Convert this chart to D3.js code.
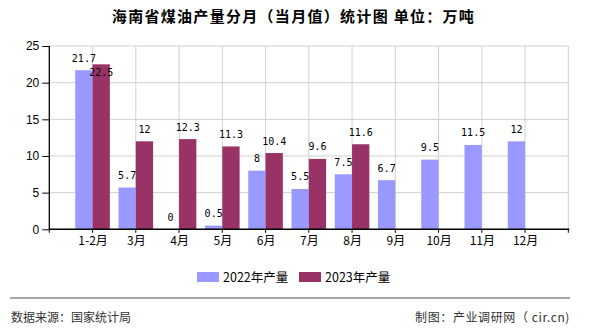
<!DOCTYPE html>
<html><head><meta charset="utf-8">
<script src="https://cdn.jsdelivr.net/npm/d3@7"></script>
<style>body{margin:0;background:#fff}svg{display:block}</style>
</head><body>
<script>
const categories = ["1-2月","3月","4月","5月","6月","7月","8月","9月","10月","11月","12月"];
const values2022 = [21.7,5.7,0,0.5,8,5.5,7.5,6.7,9.5,11.5,12];
const values2023 = [22.5,12,12.3,11.3,10.4,9.6,11.6,null,null,null,null];
const seriesNames = ["2022年产量","2023年产量"];
const yTicks = [0,5,10,15,20,25];

const W=590,H=330;
const svg=d3.select("body").append("svg").attr("width",W).attr("height",H);
const L=49.3,R=568.3,T=46,B=229.3;
const colors=["#9999ff","#993366"];

const x=d3.scalePoint().domain(categories).range([L,R]).padding(1);
const step=x.step();
const y=d3.scaleLinear().domain([0,25]).range([B,T]);
const bw=step*0.4;

// grid
const g=svg.append("g");
g.selectAll(".hg").data(yTicks.slice(1)).join("line")
 .attr("x1",L).attr("x2",R).attr("y1",d=>y(d)).attr("y2",d=>y(d))
 .attr("stroke","#d0d0d0").attr("stroke-width",1);
const vpos=d3.range(1,13).map(i=>L+i*step);
g.selectAll(".vg").data(vpos).join("line")
 .attr("x1",d=>d).attr("x2",d=>d).attr("y1",T).attr("y2",B)
 .attr("stroke","#d0d0d0").attr("stroke-width",1);

// bars
const series=[values2022,values2023];
series.forEach((vals,si)=>{
  const data=categories.map((c,i)=>({c,v:vals[i]})).filter(d=>d.v!==null);
  svg.append("g").selectAll("rect").data(data).join("rect")
   .attr("x",d=>x(d.c)+(si===0?-bw:0)).attr("width",bw)
   .attr("y",d=>y(d.v)).attr("height",d=>B-y(d.v))
   .attr("fill",colors[si]);
});

// axes
const ya=svg.append("g").attr("transform",`translate(${L},0)`)
 .call(d3.axisLeft(y).tickValues(yTicks).tickSize(7).tickPadding(3).tickFormat(d3.format("d")));
ya.select(".domain").remove();
ya.selectAll("line").attr("stroke","#000");
ya.selectAll("text").attr("font-family","'Liberation Sans',Arial,sans-serif").attr("font-size",12).attr("fill","#000");
svg.append("line").attr("x1",L).attr("x2",L).attr("y1",T).attr("y2",B).attr("stroke","#000").attr("stroke-width",1.3);

const xa=svg.append("g").attr("transform",`translate(0,${B})`)
 .call(d3.axisBottom(x).tickSize(0).tickPadding(7));
xa.select(".domain").remove();
xa.selectAll("text").attr("font-family","'Noto Sans CJK SC',sans-serif").attr("font-size",12).attr("fill","#000");
svg.append("line").attr("x1",L).attr("x2",R+1).attr("y1",B).attr("y2",B).attr("stroke","#000").attr("stroke-width",1.5);
svg.append("g").selectAll("line").data(d3.range(0,13).map(i=>L+i*step)).join("line")
 .attr("x1",d=>d).attr("x2",d=>d).attr("y1",B).attr("y2",B+3.5).attr("stroke","#000");

// value labels
series.forEach((vals,si)=>{
  const data=categories.map((c,i)=>({c,v:vals[i]})).filter(d=>d.v!==null);
  svg.append("g").selectAll("text").data(data).join("text")
   .attr("x",d=>x(d.c)+(si===0?-bw/2:bw/2))
   .attr("y",d=>d.v>22?y(d.v)+12:y(d.v)-8.5)
   .attr("text-anchor","middle")
   .attr("font-family","'DejaVu Sans Mono',monospace").attr("font-size",10)
   .attr("fill","#000").text(d=>d.v);
});

// title
svg.append("text").attr("x",293.5).attr("y",22).attr("text-anchor","middle")
 .attr("font-family","'Noto Sans CJK SC',sans-serif").attr("font-size",15).attr("font-weight","bold")
 .attr("letter-spacing","1.3px").attr("fill","#000")
 .text("海南省煤油产量分月（当月值）统计图 单位：万吨");

// legend
const lg=svg.append("g");
const lx=[197,299];
seriesNames.forEach((n,i)=>{
  lg.append("rect").attr("x",lx[i]).attr("y",272).attr("width",22).attr("height",10).attr("fill",colors[i]);
  lg.append("text").attr("x",lx[i]+26).attr("y",281.5)
   .attr("font-family","'Noto Sans CJK SC',sans-serif").attr("font-size",12.5).attr("fill","#000").text(n);
});

// footer
svg.append("line").attr("x1",10).attr("x2",570).attr("y1",298).attr("y2",298).attr("stroke","#888").attr("stroke-width",1.5);
svg.append("text").attr("x",11).attr("y",321.5)
 .attr("font-family","'Noto Sans CJK SC',sans-serif").attr("font-size",12).attr("fill","#333").text("数据来源：国家统计局");
svg.append("text").attr("x",570).attr("y",321.5).attr("text-anchor","end")
 .attr("font-family","'Noto Sans CJK SC',sans-serif").attr("font-size",12).attr("letter-spacing","0.6px").attr("fill","#333").text("制图：产业调研网（ cir.cn)");
</script>
</body></html>
